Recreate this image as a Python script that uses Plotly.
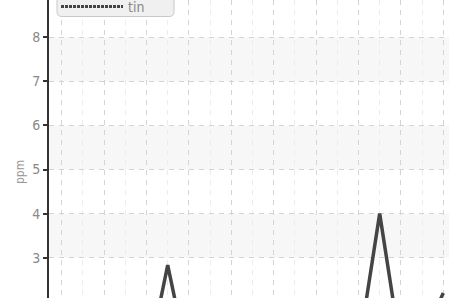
import plotly.graph_objects as go

# ---- data ----
series_name = "tin"
x_index = list(range(19))
tin_ppm = [0.6, 0.5, 0.7, 0.6, 0.5, 2.83, 0.55, 0.6, 0.5, 0.7, 0.6, 0.5, 0.6, 0.7, 0.9, 4.0, 0.9, 1.1, 2.2]
y_ticks = [2, 3, 4, 5, 6, 7, 8]
band_pairs = [(3, 4), (5, 6), (7, 8)]
y_title = "ppm"

W, H = 449, 298
PL = 49  # plot left in px
FONT = "DejaVu Sans Condensed, Liberation Sans Narrow, Roboto, sans-serif"

fig = go.Figure()
fig.add_trace(go.Scatter(
    x=x_index, y=tin_ppm, mode="lines", name=series_name,
    line=dict(color="#444444", width=3.5), showlegend=False,
))

shapes = []
for lo, hi in band_pairs:
    shapes.append(dict(type="rect", xref="paper", yref="y", x0=0, x1=1, y0=lo, y1=hi,
                       fillcolor="#f7f7f7", line=dict(width=0), layer="below"))

def px(xp):
    return (xp - PL) / (W - PL)

def py(yp):
    return 1 - yp / H

# manual legend box (rounded bottom corners)
l, r, t, b, rad = 57, 174, -10, 16.5, 5
path = (f"M {px(l)},{py(t)} L {px(l)},{py(b-rad)} Q {px(l)},{py(b)} {px(l+rad)},{py(b)} "
        f"L {px(r-rad)},{py(b)} Q {px(r)},{py(b)} {px(r)},{py(b-rad)} L {px(r)},{py(t)} Z")
shapes.append(dict(type="path", xref="paper", yref="paper", path=path,
                   fillcolor="#f0f0f0", line=dict(color="#c8c8c8", width=1), layer="above"))
shapes.append(dict(type="line", xref="paper", yref="paper", x0=px(61), x1=px(123), y0=py(6.5), y1=py(6.5),
                   line=dict(color="#444444", width=3, dash="3px,1px"), layer="above"))

annotations = [
    dict(text=series_name, xref="paper", yref="paper", x=px(126), y=py(7), xanchor="left", yanchor="middle",
         showarrow=False, font=dict(family=FONT, size=14, color="#888888")),
    dict(text=y_title, xref="paper", yref="paper", x=px(20), y=py(172), xanchor="center", yanchor="middle",
         textangle=-90, showarrow=False,
         font=dict(family=FONT, size=12, color="#999999")),
]

fig.update_layout(
    width=W, height=H,
    margin=dict(l=PL, r=0, t=0, b=0, pad=0, autoexpand=False),
    paper_bgcolor="white", plot_bgcolor="white",
    shapes=shapes, annotations=annotations, showlegend=False,
    xaxis=dict(range=[-0.6, 18.27], tick0=0, dtick=2, showticklabels=False, ticks="",
               showgrid=True, gridcolor="#d4d4d4", griddash="5px,5px", gridwidth=1,
               zeroline=False, showline=False,
               minor=dict(dtick=1, tick0=0, showgrid=True, gridcolor="#ececec", griddash="5px,5px", gridwidth=1)),
    yaxis=dict(range=[2.086, 8.846], tickvals=y_ticks, ticks="outside", ticklen=4, tickcolor="#333333",
               tickwidth=1.5, showline=True, linecolor="#333333", linewidth=2,
               showgrid=True, gridcolor="#d4d4d4", griddash="5px,5px", gridwidth=1, zeroline=False,
               tickfont=dict(family=FONT, size=14, color="#888888")),
)

fig.write_html("out.html", config={"displayModeBar": False},
               post_script="document.body.style.margin='0';document.body.style.overflow='hidden';")
